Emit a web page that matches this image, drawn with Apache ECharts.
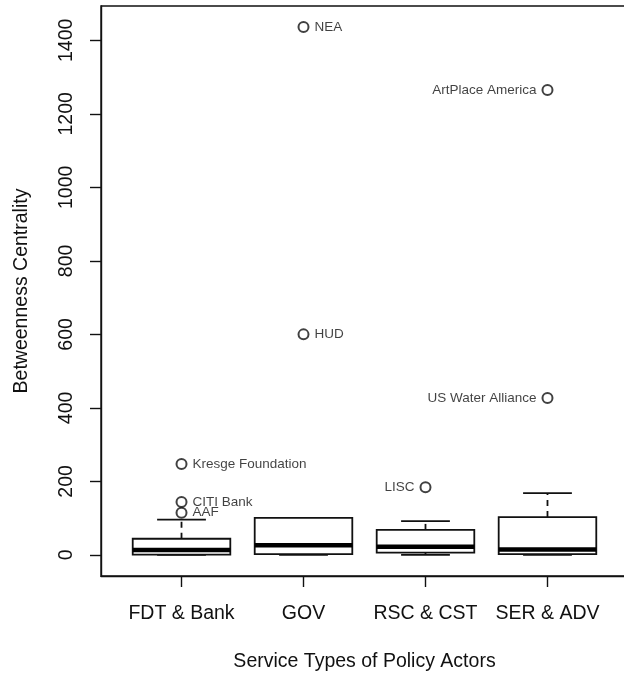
<!DOCTYPE html>
<html>
<head>
<meta charset="utf-8">
<script src="https://cdn.jsdelivr.net/npm/echarts@6/dist/echarts.min.js"></script>
<style>html,body{margin:0;padding:0;background:#fff}#c{width:624px;height:674px}</style>
</head>
<body>
<div id="c"></div>
<script>
// ---- data ----
var categories = ['FDT & Bank', 'GOV', 'RSC & CST', 'SER & ADV'];
var whiskerLow  = [0, 0, 0, 0];
var q1          = [1, 2, 6, 2];
var median      = [13, 26, 22, 15];
var q3          = [44, 101, 68, 103];
var whiskerHigh = [96, 101, 92, 168];

var outlierNames  = ['Kresge Foundation', 'CITI Bank', 'AAF', 'NEA', 'HUD', 'LISC', 'ArtPlace America', 'US Water Alliance'];
var outlierGroup  = [1, 1, 1, 2, 2, 3, 4, 4];
var outlierValues = [247, 144, 115, 1436, 600, 184, 1265, 427];
var outlierSide   = ['right', 'right', 'right', 'right', 'right', 'left', 'left', 'left'];

var yTicks = [0, 200, 400, 600, 800, 1000, 1200, 1400];
var xTicks = [1, 2, 3, 4];

// ---- chart ----
var FONT = 'Liberation Sans, Arial, Helvetica, sans-serif';
var boxData = categories.map(function (c, i) {
  return [i + 1, whiskerLow[i], q1[i], median[i], q3[i], whiskerHigh[i]];
});
var outData = outlierValues.map(function (v, i) {
  return {
    name: outlierNames[i],
    value: [outlierGroup[i], v],
    label: { position: outlierSide[i] }
  };
});

function renderBox(params, api) {
  var x = api.value(0);
  var lo = api.coord([x, api.value(1)]);
  var b1 = api.coord([x, api.value(2)]);
  var md = api.coord([x, api.value(3)]);
  var b3 = api.coord([x, api.value(4)]);
  var hi = api.coord([x, api.value(5)]);
  var left = api.coord([x - 0.4, 0])[0];
  var right = api.coord([x + 0.4, 0])[0];
  var sl = api.coord([x - 0.2, 0])[0];
  var sr = api.coord([x + 0.2, 0])[0];
  var cx = lo[0];
  var st = { stroke: '#111', lineWidth: 1.8, fill: null };
  var dash = { stroke: '#111', lineWidth: 1.8, lineDash: [6, 5] };
  return {
    type: 'group',
    children: [
      { type: 'line', shape: { x1: cx, y1: b3[1], x2: cx, y2: hi[1] }, style: dash },
      { type: 'line', shape: { x1: cx, y1: b1[1], x2: cx, y2: lo[1] }, style: dash },
      { type: 'line', shape: { x1: sl, y1: hi[1], x2: sr, y2: hi[1] }, style: st },
      { type: 'line', shape: { x1: sl, y1: lo[1], x2: sr, y2: lo[1] }, style: st },
      { type: 'rect', shape: { x: left, y: b3[1], width: right - left, height: b1[1] - b3[1] }, style: { stroke: '#111', lineWidth: 1.8, fill: '#fff' } },
      { type: 'line', shape: { x1: left, y1: md[1], x2: right, y2: md[1] }, style: { stroke: '#000', lineWidth: 4.5 } }
    ]
  };
}

var chart = echarts.init(document.getElementById('c'), null, { renderer: 'canvas' });
chart.setOption({
  animation: false,
  backgroundColor: '#fff',
  textStyle: { fontFamily: FONT },
  grid: { left: 101, top: 6, width: 527, height: 570, outerBoundsMode: 'none', containLabel: false,
    show: true, borderColor: '#111', borderWidth: 1.4, backgroundColor: 'transparent' },
  xAxis: {
    type: 'value', min: 0.34, max: 4.66,
    name: 'Service Types of Policy Actors', nameLocation: 'middle', nameGap: 76,
    nameTextStyle: { fontSize: 19.5, color: '#111', fontFamily: FONT },
    axisLine: { show: true, onZero: false, lineStyle: { color: '#111', width: 1.4 } },
    axisTick: { show: true, length: 11, inside: false, customValues: xTicks, lineStyle: { color: '#111', width: 1.4 } },
    axisLabel: { customValues: xTicks, margin: 28, fontSize: 19.5, color: '#111', fontFamily: FONT,
      formatter: function (v) { return categories[Math.round(v) - 1] || ''; } },
    splitLine: { show: false }
  },
  yAxis: {
    type: 'value', min: -57.4, max: 1493.4,
    name: 'Betweenness Centrality', nameLocation: 'middle', nameGap: 69, nameRotate: 90,
    nameTextStyle: { fontSize: 19.5, color: '#111', fontFamily: FONT },
    axisLine: { show: true, onZero: false, lineStyle: { color: '#111', width: 1.4 } },
    axisTick: { show: true, length: 11, customValues: yTicks, lineStyle: { color: '#111', width: 1.4 } },
    axisLabel: { customValues: yTicks, rotate: 90, margin: 24, fontSize: 19.5, color: '#111', fontFamily: FONT,
      formatter: function (v) { return String(Math.round(v)); } },
    splitLine: { show: false }
  },
  series: [
    {
      type: 'custom',
      renderItem: renderBox,
      encode: { x: 0, y: [1, 2, 3, 4, 5] },
      data: boxData,
      z: 2
    },
    {
      type: 'scatter',
      symbol: 'emptyCircle',
      symbolSize: 10,
      itemStyle: { color: '#111', borderColor: '#111', borderWidth: 1.4 },
      label: {
        show: true, formatter: '{b}', fontSize: 13.5, color: '#111', fontFamily: FONT, distance: 5
      },
      data: outData,
      z: 3
    }
  ]
});
</script>
</body>
</html>
